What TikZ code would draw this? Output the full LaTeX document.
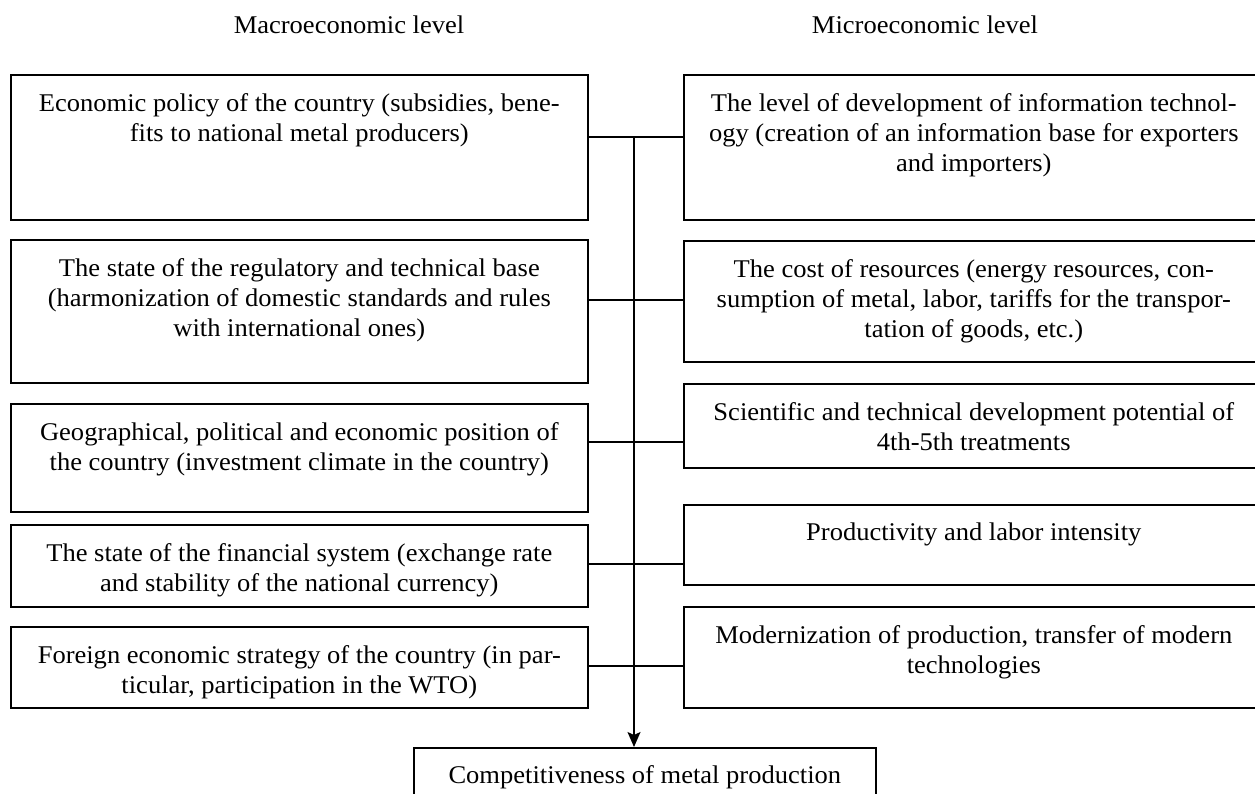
\documentclass[tikz,border=0pt]{standalone}
\usepackage{fontspec}
\setmainfont{Liberation Serif}[FakeStretch=1.04]
\usetikzlibrary{arrows.meta}
\begin{document}
\begin{tikzpicture}[x=1pt,y=-1pt,
  box/.style={draw, line width=1.6pt, anchor=north west, inner sep=0pt, minimum height=#1},
  lbox/.style={box=#1, minimum width=577pt},
  rbox/.style={box=#1, minimum width=580pt},
  txt/.style={anchor=north, inner sep=0pt, align=center, font=\fontsize{25.5}{30}\selectfont},
  ttl/.style={inner sep=0pt, font=\fontsize{25.5}{30}\selectfont},
  conn/.style={line width=1.6pt},
  arr/.style={line width=1.6pt, -{Stealth[length=15pt,width=13pt,inset=3pt]}}]
\useasboundingbox (0,0) rectangle (1255,793);
\clip (0,0) rectangle (1255,793);
\fill[white] (0,0) rectangle (1255,793);

\node[ttl] (tmacro) at (349,25) {Macroeconomic level};
\node[ttl] (tmicro) at (925,25) {Microeconomic level};

% left boxes
\node[lbox=145pt] (L1) at (10,74) {};
\node[lbox=143pt] (L2) at (10,239) {};
\node[lbox=108pt] (L3) at (10,403) {};
\node[lbox=82pt]  (L4) at (10,524) {};
\node[lbox=81pt]  (L5) at (10,626) {};
% right boxes
\node[rbox=145pt] (R1) at (683,74) {};
\node[rbox=121pt] (R2) at (683,240) {};
\node[rbox=84pt]  (R3) at (683,383) {};
\node[rbox=80pt]  (R4) at (683,504) {};
\node[rbox=101pt] (R5) at (683,606) {};
% bottom box
\node[box=70pt, minimum width=462pt] (B) at (413,747) {};

% texts
\node[txt] (L1t) at ([yshift=-19pt]L1.north) {Economic policy of the country (subsidies, bene-\\fits to national metal producers)};
\node[txt] (L2t) at ([yshift=-19pt]L2.north) {The state of the regulatory and technical base\\(harmonization of domestic standards and rules\\with international ones)};
\node[txt] (L3t) at ([yshift=-19pt]L3.north) {Geographical, political and economic position of\\the country (investment climate in the country)};
\node[txt] (L4t) at ([yshift=-19pt]L4.north) {The state of the financial system (exchange rate\\and stability of the national currency)};
\node[txt] (L5t) at ([yshift=-19pt]L5.north) {Foreign economic strategy of the country (in par-\\ticular, participation in the WTO)};
\node[txt] (R1t) at ([yshift=-19pt]R1.north) {The level of development of information technol-\\ogy (creation of an information base for exporters\\and importers)};
\node[txt] (R2t) at ([yshift=-19pt]R2.north) {The cost of resources (energy resources, con-\\sumption of metal, labor, tariffs for the transpor-\\tation of goods, etc.)};
\node[txt] (R3t) at ([yshift=-19pt]R3.north) {Scientific and technical development potential of\\4th-5th treatments};
\node[txt] (R4t) at ([yshift=-19pt]R4.north) {Productivity and labor intensity};
\node[txt] (R5t) at ([yshift=-19pt]R5.north) {Modernization of production, transfer of modern\\technologies};
\node[txt] (Bt) at ([yshift=-18pt]B.north) {Competitiveness of metal production};

% connectors
\coordinate (h1) at (634,137);
\coordinate (h2) at (634,300);
\coordinate (h3) at (634,442);
\coordinate (h4) at (634,564);
\coordinate (h5) at (634,666);
\draw[conn] (L1.east |- h1) -- (R1.west |- h1);
\draw[conn] (L2.east |- h2) -- (R2.west |- h2);
\draw[conn] (L3.east |- h3) -- (R3.west |- h3);
\draw[conn] (L4.east |- h4) -- (R4.west |- h4);
\draw[conn] (L5.east |- h5) -- (R5.west |- h5);
\draw[arr] (h1) -- (B.north -| h1);
\end{tikzpicture}
\end{document}
